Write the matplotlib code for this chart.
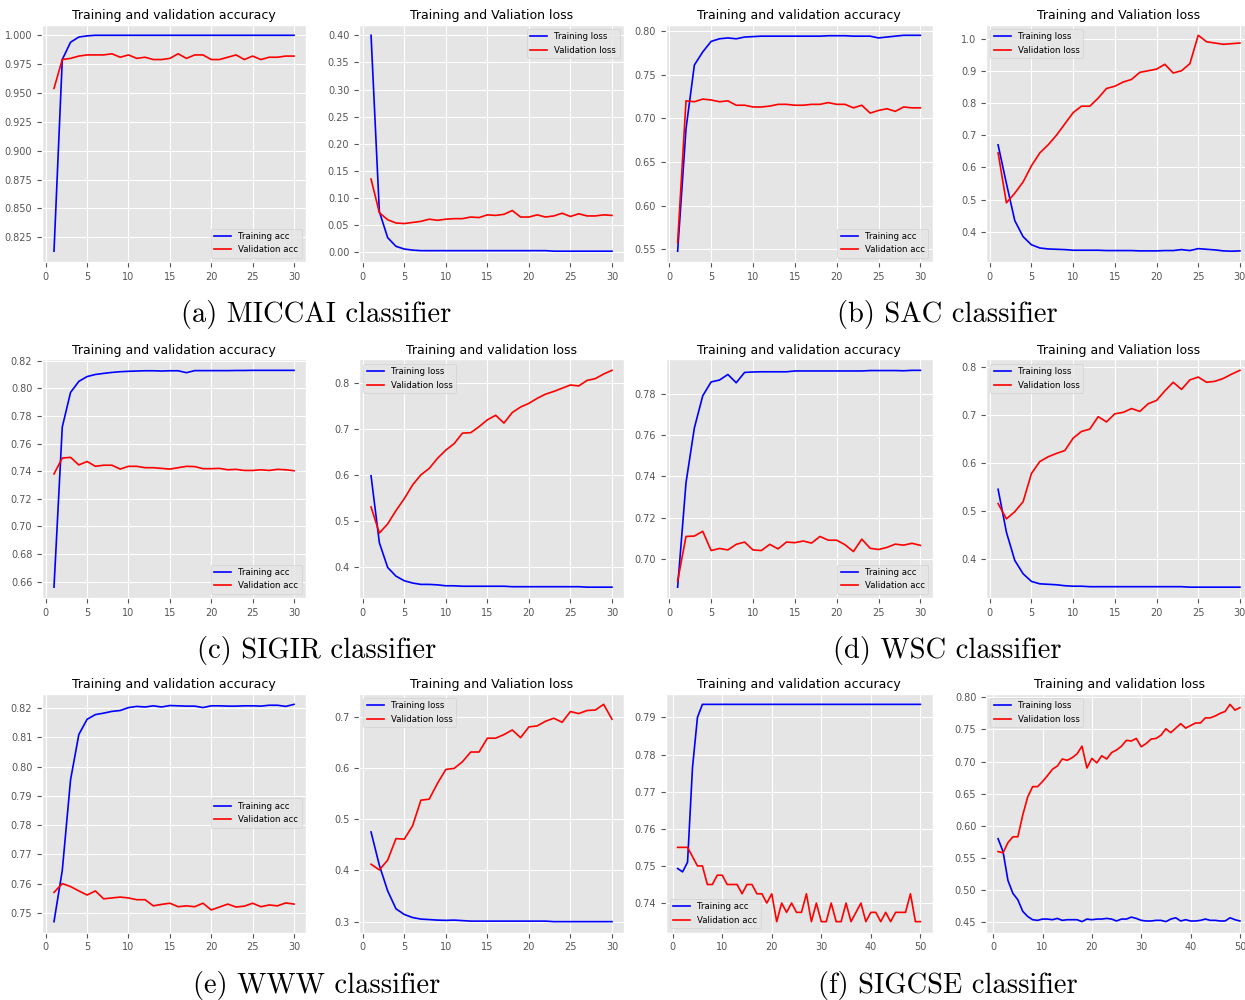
import numpy as np
import matplotlib
matplotlib.use("Agg")
from matplotlib import pyplot as plt

plt.style.use("ggplot")

# epochs
ep30 = np.arange(1, 31)
ep50 = np.arange(1, 51)

# (a) MICCAI
miccai_acc = [0.813, 0.979, 0.994, 0.9985, 0.9995] + [1.0] * 25
miccai_val_acc = [0.954, 0.979, 0.980, 0.982, 0.983, 0.983, 0.983, 0.984, 0.981, 0.983,
                  0.980, 0.981, 0.979, 0.979, 0.980, 0.984, 0.980, 0.983, 0.983, 0.979,
                  0.979, 0.981, 0.983, 0.979, 0.982, 0.979, 0.981, 0.981, 0.982, 0.982]
miccai_loss = [0.40, 0.075, 0.027, 0.011, 0.006, 0.004, 0.003, 0.003, 0.003, 0.003,
               0.003, 0.003, 0.003, 0.003, 0.003, 0.003, 0.003, 0.003, 0.003, 0.003,
               0.003, 0.003, 0.002, 0.002, 0.002, 0.002, 0.002, 0.002, 0.002, 0.002]
miccai_val_loss = [0.135, 0.073, 0.060, 0.054, 0.053, 0.055, 0.057, 0.061, 0.059, 0.061,
                   0.062, 0.062, 0.065, 0.064, 0.069, 0.068, 0.070, 0.077, 0.065, 0.065,
                   0.069, 0.065, 0.067, 0.072, 0.066, 0.071, 0.067, 0.067, 0.069, 0.068]

# (b) SAC
sac_acc = [0.548, 0.688, 0.761, 0.776, 0.788, 0.791, 0.792, 0.791, 0.793, 0.7935,
           0.794, 0.794, 0.794, 0.794, 0.794, 0.794, 0.794, 0.794, 0.7945, 0.7945,
           0.7945, 0.794, 0.794, 0.794, 0.792, 0.793, 0.794, 0.795, 0.795, 0.795]
sac_val_acc = [0.558, 0.720, 0.719, 0.722, 0.721, 0.719, 0.720, 0.715, 0.715, 0.713,
               0.713, 0.714, 0.716, 0.716, 0.715, 0.715, 0.716, 0.716, 0.718, 0.716,
               0.716, 0.712, 0.715, 0.706, 0.709, 0.711, 0.708, 0.713, 0.712, 0.712]
sac_loss = [0.67, 0.55, 0.435, 0.385, 0.36, 0.35, 0.347, 0.346, 0.345, 0.343,
            0.343, 0.343, 0.343, 0.342, 0.342, 0.342, 0.342, 0.341, 0.341, 0.341,
            0.342, 0.342, 0.345, 0.342, 0.348, 0.346, 0.344, 0.341, 0.340, 0.341]
sac_val_loss = [0.645, 0.49, 0.52, 0.555, 0.605, 0.645, 0.67, 0.70, 0.735, 0.77,
                0.79, 0.79, 0.815, 0.845, 0.852, 0.865, 0.873, 0.895, 0.90, 0.905,
                0.92, 0.893, 0.90, 0.922, 1.01, 0.99, 0.986, 0.982, 0.984, 0.986]

# (c) SIGIR
sigir_acc = [0.656, 0.772, 0.797, 0.805, 0.8085, 0.810, 0.8108, 0.8115, 0.812, 0.8123,
             0.8125, 0.8127, 0.8127, 0.8125, 0.8127, 0.8127, 0.8113, 0.8128, 0.8128, 0.8128,
             0.8128, 0.8128, 0.8129, 0.8129, 0.813, 0.813, 0.813, 0.813, 0.813, 0.813]
sigir_val_acc = [0.738, 0.7495, 0.750, 0.7445, 0.747, 0.7435, 0.7443, 0.7443, 0.7415, 0.7435,
                 0.7435, 0.7425, 0.7425, 0.742, 0.7415, 0.7425, 0.7435, 0.7433, 0.7418, 0.7418,
                 0.742, 0.741, 0.7413, 0.7405, 0.7405, 0.741, 0.7405, 0.7413, 0.741, 0.7403]
sigir_loss = [0.598, 0.452, 0.398, 0.379, 0.369, 0.364, 0.361, 0.361, 0.360, 0.358,
              0.358, 0.357, 0.357, 0.357, 0.357, 0.357, 0.357, 0.356, 0.356, 0.356,
              0.356, 0.356, 0.356, 0.356, 0.356, 0.356, 0.355, 0.355, 0.355, 0.355]
sigir_val_loss = [0.530, 0.473, 0.493, 0.522, 0.548, 0.578, 0.600, 0.614, 0.636, 0.654,
                  0.668, 0.691, 0.692, 0.705, 0.720, 0.730, 0.713, 0.736, 0.748, 0.756,
                  0.767, 0.776, 0.782, 0.789, 0.796, 0.794, 0.806, 0.810, 0.820, 0.828]

# (d) WSC
wsc_acc = [0.6865, 0.737, 0.7635, 0.779, 0.7857, 0.7866, 0.7893, 0.7853, 0.7903, 0.7905,
           0.7906, 0.7906, 0.7906, 0.7906, 0.791, 0.791, 0.791, 0.791, 0.791, 0.791,
           0.791, 0.791, 0.791, 0.7912, 0.7912, 0.7912, 0.7912, 0.7911, 0.7913, 0.7913]
wsc_val_acc = [0.6895, 0.711, 0.7112, 0.7135, 0.7042, 0.7052, 0.7045, 0.7072, 0.7083, 0.7045,
               0.7042, 0.7072, 0.705, 0.7083, 0.708, 0.7088, 0.7078, 0.711, 0.7092, 0.7092,
               0.707, 0.7037, 0.7097, 0.7053, 0.7047, 0.7057, 0.7073, 0.7068, 0.7077, 0.7067]
wsc_loss = [0.545, 0.455, 0.396, 0.368, 0.352, 0.347, 0.346, 0.345, 0.343, 0.342,
            0.342, 0.341, 0.341, 0.341, 0.341, 0.341, 0.341, 0.341, 0.341, 0.341,
            0.341, 0.341, 0.341, 0.340, 0.340, 0.340, 0.340, 0.340, 0.340, 0.340]
wsc_val_loss = [0.515, 0.483, 0.498, 0.519, 0.578, 0.603, 0.613, 0.620, 0.626, 0.652,
                0.666, 0.671, 0.697, 0.686, 0.703, 0.706, 0.714, 0.708, 0.724, 0.731,
                0.751, 0.769, 0.754, 0.774, 0.780, 0.769, 0.771, 0.777, 0.786, 0.794]

# (e) WWW
www_acc = [0.747, 0.7645, 0.7955, 0.811, 0.8162, 0.8178, 0.8183, 0.8189, 0.8192, 0.8202,
           0.8206, 0.8204, 0.8208, 0.8204, 0.8209, 0.8208, 0.8207, 0.8207, 0.8202, 0.8208,
           0.8208, 0.8207, 0.8207, 0.8208, 0.8208, 0.8207, 0.821, 0.821, 0.8206, 0.8213]
www_val_acc = [0.757, 0.760, 0.759, 0.7575, 0.7561, 0.7575, 0.7548, 0.7551, 0.7554, 0.7551,
               0.7545, 0.7545, 0.7524, 0.7529, 0.7533, 0.7521, 0.7524, 0.7521, 0.7533, 0.751,
               0.752, 0.753, 0.752, 0.7523, 0.7533, 0.7521, 0.7527, 0.7524, 0.7534, 0.753]
www_loss = [0.475, 0.41, 0.36, 0.325, 0.314, 0.308, 0.305, 0.304, 0.303, 0.3025,
            0.303, 0.302, 0.301, 0.301, 0.301, 0.301, 0.301, 0.301, 0.301, 0.301,
            0.301, 0.301, 0.300, 0.300, 0.300, 0.300, 0.300, 0.300, 0.300, 0.300]
www_val_loss = [0.412, 0.401, 0.420, 0.462, 0.461, 0.487, 0.537, 0.539, 0.570, 0.597,
                0.599, 0.612, 0.631, 0.631, 0.658, 0.658, 0.665, 0.674, 0.659, 0.680,
                0.682, 0.691, 0.697, 0.689, 0.710, 0.706, 0.712, 0.713, 0.724, 0.695]

# (f) SIGCSE, 50 epochs
sigcse_acc = [0.7493, 0.7484, 0.751, 0.7765, 0.790] + [0.7935] * 45
sigcse_val_acc = [0.755, 0.755, 0.755, 0.7525, 0.750, 0.750, 0.745, 0.745, 0.7475, 0.7475,
                  0.745, 0.745, 0.745, 0.7425, 0.745, 0.745, 0.7425, 0.7425, 0.740, 0.7425,
                  0.735, 0.740, 0.7375, 0.740, 0.7375, 0.7375, 0.7425, 0.735, 0.740, 0.735,
                  0.735, 0.740, 0.735, 0.735, 0.740, 0.735, 0.7375, 0.740, 0.735, 0.7375,
                  0.7375, 0.735, 0.7375, 0.735, 0.7375, 0.7375, 0.7375, 0.7425, 0.735, 0.735]
sigcse_loss = [0.58, 0.56, 0.515, 0.495, 0.485, 0.467, 0.459, 0.454, 0.453, 0.455,
               0.455, 0.454, 0.456, 0.453, 0.454, 0.454, 0.454, 0.451, 0.455, 0.454,
               0.455, 0.455, 0.456, 0.455, 0.452, 0.455, 0.455, 0.458, 0.456, 0.453,
               0.452, 0.452, 0.453, 0.453, 0.451, 0.455, 0.457, 0.452, 0.454, 0.452,
               0.452, 0.453, 0.455, 0.453, 0.453, 0.452, 0.452, 0.457, 0.454, 0.452]
sigcse_val_loss = [0.560, 0.558, 0.574, 0.583, 0.583, 0.617, 0.645, 0.661, 0.661, 0.669,
                   0.678, 0.688, 0.693, 0.704, 0.702, 0.706, 0.712, 0.724, 0.690, 0.705,
                   0.698, 0.709, 0.704, 0.714, 0.718, 0.724, 0.733, 0.732, 0.736, 0.723,
                   0.728, 0.735, 0.736, 0.741, 0.751, 0.745, 0.752, 0.759, 0.752, 0.756,
                   0.760, 0.760, 0.768, 0.768, 0.771, 0.775, 0.778, 0.789, 0.780, 0.784]

captions = ["(a) MICCAI classifier", "(b) SAC classifier",
            "(c) SIGIR classifier", "(d) WSC classifier",
            "(e) WWW classifier", "(f) SIGCSE classifier"]

# one entry per panel: epochs, train, val, title, legend labels, legend loc
panels = [
    (ep30, miccai_acc, miccai_val_acc, "Training and validation accuracy", "acc", "lower right"),
    (ep30, miccai_loss, miccai_val_loss, "Training and Valiation loss", "loss", "upper right"),
    (ep30, sac_acc, sac_val_acc, "Training and validation accuracy", "acc", "lower right"),
    (ep30, sac_loss, sac_val_loss, "Training and Valiation loss", "loss", "upper left"),
    (ep30, sigir_acc, sigir_val_acc, "Training and validation accuracy", "acc", "lower right"),
    (ep30, sigir_loss, sigir_val_loss, "Training and validation loss", "loss", "upper left"),
    (ep30, wsc_acc, wsc_val_acc, "Training and validation accuracy", "acc", "lower right"),
    (ep30, wsc_loss, wsc_val_loss, "Training and Valiation loss", "loss", "upper left"),
    (ep30, www_acc, www_val_acc, "Training and validation accuracy", "acc", "center right"),
    (ep30, www_loss, www_val_loss, "Training and Valiation loss", "loss", "upper left"),
    (ep50, sigcse_acc, sigcse_val_acc, "Training and validation accuracy", "acc", "lower left"),
    (ep50, sigcse_loss, sigcse_val_loss, "Training and validation loss", "loss", "upper left"),
]

W, H = 1245, 1000
fig = plt.figure(figsize=(12.45, 10), dpi=100)

# pixel boxes of the axes (left, right) and (top, bottom)
cols = [(42, 306), (359, 624), (665.5, 932.5), (986, 1252)]
rows = [(24.5, 262), (359.5, 598), (693.5, 932.5)]

for i, (ep, tr, va, title, kind, loc) in enumerate(panels):
    r, c = i // 4, i % 4
    x0, x1 = cols[c]
    y0, y1 = rows[r]
    ax = fig.add_axes([x0 / W, 1 - y1 / H, (x1 - x0) / W, (y1 - y0) / H])
    ax.plot(ep, tr, "b", lw=1.2, label="Training " + kind)
    ax.plot(ep, va, "r", lw=1.2, label="Validation " + kind)
    ax.set_title(title, fontsize=9, pad=4)
    ax.tick_params(labelsize=7, colors="#555555")
    ax.legend(loc=loc, fontsize=6.2)

cap_x = [316.5, 947.5]
cap_y = [322, 658, 993]
for i, txt in enumerate(captions):
    fig.text(cap_x[i % 2] / W, 1 - cap_y[i // 2] / H, txt, family="cmr10",
             fontsize=20.5, ha="center", va="baseline")

fig.savefig("out.png", dpi=100)
